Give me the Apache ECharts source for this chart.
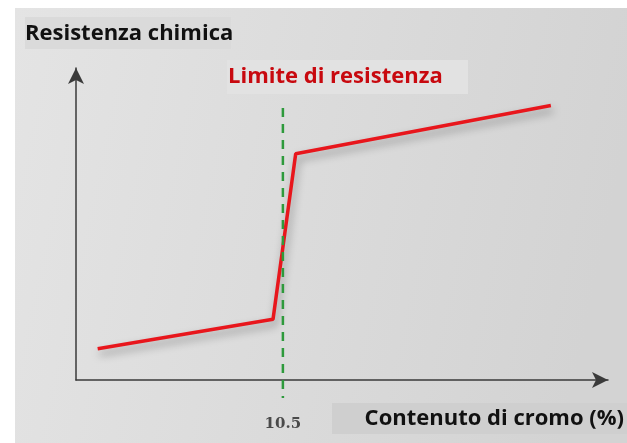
<!DOCTYPE html>
<html>
<head>
<meta charset="utf-8">
<script src="https://cdn.jsdelivr.net/npm/echarts@6/dist/echarts.min.js"></script>
<style>
html,body{margin:0;padding:0;background:#fff;}
#c{width:627px;height:443px;}
</style>
</head>
<body>
<div id="c"></div>
<script>
// Data
const curveX = [1.1, 10.0, 11.15, 24.1];
const curveY = [10, 19.5, 72.5, 88];
const thresholdX = 10.5;
const thresholdSpanY = [87.2, -5.8];
const tickLabels = ['10.5'];
const yTitle = 'Resistenza chimica';
const xTitle = 'Contenuto di cromo (%)';
const thresholdTitle = 'Limite di resistenza';

const chart = echarts.init(document.getElementById('c'), null, {renderer: 'canvas'});
const font = '"Open Sans", Lato, sans-serif';

chart.setOption({
  animation: false,
  backgroundColor: '#ffffff',
  grid: {left: 76, right: 19, top: 68, bottom: 63, containLabel: false},
  xAxis: {
    type: 'value', min: 0, max: 27,
    axisLine: {show: true, symbol: ['none', 'arrow'], symbolSize: [12, 16], symbolOffset: [0, 0],
      lineStyle: {color: '#3a3a3a', width: 1.5}},
    axisTick: {show: false},
    splitLine: {show: false},
    axisLabel: {
      show: true, customValues: tickLabels.map(Number), formatter: v => String(v),
      margin: 37, fontSize: 15, fontWeight: 'bold', fontFamily: '"DejaVu Serif", serif', color: '#4a4a4a'
    }
  },
  yAxis: {
    type: 'value', min: 0, max: 100,
    axisLine: {show: true, symbol: ['none', 'arrow'], symbolSize: [12, 16],
      lineStyle: {color: '#3a3a3a', width: 1.5}},
    axisTick: {show: false},
    splitLine: {show: false},
    axisLabel: {show: false}
  },
  graphic: [
    {type: 'rect', z: -10, silent: true,
      shape: {x: 15, y: 8, width: 612, height: 435},
      style: {fill: new echarts.graphic.LinearGradient(0, 0, 1, 0.3, [
        {offset: 0, color: '#e4e4e4'}, {offset: 1, color: '#d3d3d3'}])}},
    {type: 'rect', z: -5, silent: true, shape: {x: 25, y: 17, width: 206, height: 32},
      style: {fill: '#dadada'}},
    {type: 'rect', z: -5, silent: true, shape: {x: 227, y: 60, width: 241, height: 34},
      style: {fill: '#e2e2e2'}},
    {type: 'rect', z: -5, silent: true, shape: {x: 332, y: 403, width: 295, height: 31},
      style: {fill: '#cfcfcf'}},
    {type: 'text', left: 25, top: 23, z: 10,
      style: {text: yTitle, font: 'bold 22px ' + font, fill: '#111111'}},
    {type: 'text', left: 228, top: 66, z: 10,
      style: {text: thresholdTitle, font: 'bold 22px ' + font, fill: '#c8090f'}},
    {type: 'text', right: 3, top: 408, z: 10,
      style: {text: xTitle, font: 'bold 22px ' + font, fill: '#111111'}}
  ],
  series: [
    {
      type: 'line', data: curveX.map((x, i) => [x, curveY[i]]),
      symbol: 'none', clip: false,
      lineStyle: {color: '#e8161c', width: 3.5, shadowBlur: 8, shadowColor: 'rgba(0,0,0,0.35)', shadowOffsetY: 5, shadowOffsetX: 2},
      z: 3
    },
    {
      type: 'line', data: thresholdSpanY.map(y => [thresholdX, y]),
      symbol: 'none', clip: false,
      lineStyle: {color: '#2e9a3c', width: 2.5, type: [9, 7]},
      z: 4
    }
  ]
});
</script>
</body>
</html>
